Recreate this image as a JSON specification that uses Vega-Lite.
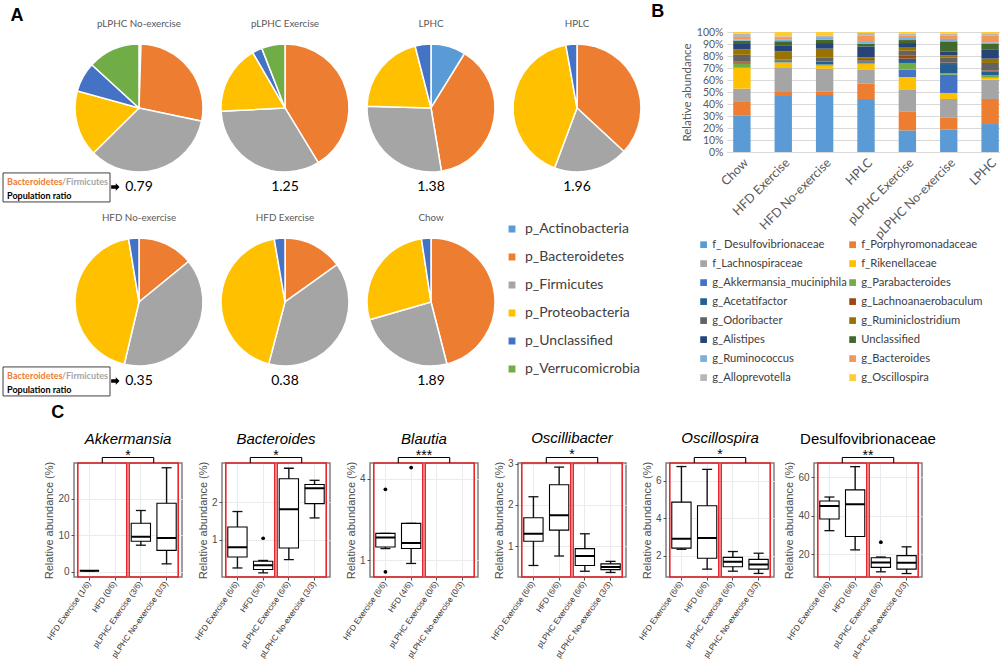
{
"$schema":"https://vega.github.io/schema/vega-lite/v6.json",
"background":"white",
"padding":{"left":2,"top":3,"right":0,"bottom":0},
"config":{"font":"Lato","view":{"stroke":null},"title":{"color":"black"}},
"datasets":{
"pies":[
{"group":"pLPHC No-exercise","kind":"pie","phylum":"p_Actinobacteria","value":0.5},
{"group":"pLPHC No-exercise","kind":"pie","phylum":"p_Bacteroidetes","value":27.8},
{"group":"pLPHC No-exercise","kind":"pie","phylum":"p_Firmicutes","value":34.3},
{"group":"pLPHC No-exercise","kind":"pie","phylum":"p_Proteobacteria","value":16.7},
{"group":"pLPHC No-exercise","kind":"pie","phylum":"p_Unclassified","value":7.5},
{"group":"pLPHC No-exercise","kind":"pie","phylum":"p_Verrucomicrobia","value":13.2},
{"group":"pLPHC Exercise","kind":"pie","phylum":"p_Bacteroidetes","value":41.3},
{"group":"pLPHC Exercise","kind":"pie","phylum":"p_Firmicutes","value":32.9},
{"group":"pLPHC Exercise","kind":"pie","phylum":"p_Proteobacteria","value":17.4},
{"group":"pLPHC Exercise","kind":"pie","phylum":"p_Unclassified","value":2.5},
{"group":"pLPHC Exercise","kind":"pie","phylum":"p_Verrucomicrobia","value":5.9},
{"group":"LPHC","kind":"pie","phylum":"p_Actinobacteria","value":8.8},
{"group":"LPHC","kind":"pie","phylum":"p_Bacteroidetes","value":38.6},
{"group":"LPHC","kind":"pie","phylum":"p_Firmicutes","value":28.0},
{"group":"LPHC","kind":"pie","phylum":"p_Proteobacteria","value":20.6},
{"group":"LPHC","kind":"pie","phylum":"p_Unclassified","value":4.0},
{"group":"HPLC","kind":"pie","phylum":"p_Bacteroidetes","value":36.9},
{"group":"HPLC","kind":"pie","phylum":"p_Firmicutes","value":18.8},
{"group":"HPLC","kind":"pie","phylum":"p_Proteobacteria","value":41.5},
{"group":"HPLC","kind":"pie","phylum":"p_Unclassified","value":2.8},
{"group":"HFD No-exercise","kind":"pie","phylum":"p_Bacteroidetes","value":14.1},
{"group":"HFD No-exercise","kind":"pie","phylum":"p_Firmicutes","value":39.6},
{"group":"HFD No-exercise","kind":"pie","phylum":"p_Proteobacteria","value":43.7},
{"group":"HFD No-exercise","kind":"pie","phylum":"p_Unclassified","value":2.6},
{"group":"HFD Exercise","kind":"pie","phylum":"p_Bacteroidetes","value":15.1},
{"group":"HFD Exercise","kind":"pie","phylum":"p_Firmicutes","value":39.0},
{"group":"HFD Exercise","kind":"pie","phylum":"p_Proteobacteria","value":43.2},
{"group":"HFD Exercise","kind":"pie","phylum":"p_Unclassified","value":2.7},
{"group":"Chow","kind":"pie","phylum":"p_Bacteroidetes","value":46.0},
{"group":"Chow","kind":"pie","phylum":"p_Firmicutes","value":24.5},
{"group":"Chow","kind":"pie","phylum":"p_Proteobacteria","value":27.1},
{"group":"Chow","kind":"pie","phylum":"p_Unclassified","value":2.4},
{"group":"pLPHC No-exercise","kind":"ratio","ratio":0.79},
{"group":"pLPHC Exercise","kind":"ratio","ratio":1.25},
{"group":"LPHC","kind":"ratio","ratio":1.38},
{"group":"HPLC","kind":"ratio","ratio":1.96},
{"group":"HFD No-exercise","kind":"ratio","ratio":0.35},
{"group":"HFD Exercise","kind":"ratio","ratio":0.38},
{"group":"Chow","kind":"ratio","ratio":1.89},
{"group":"pLPHC No-exercise","kind":"note","part":"Bacteroidetes"},
{"group":"pLPHC No-exercise","kind":"note","part":"/Firmicutes"},
{"group":"pLPHC No-exercise","kind":"note","part":"Population ratio"},
{"group":"HFD No-exercise","kind":"note","part":"Bacteroidetes"},
{"group":"HFD No-exercise","kind":"note","part":"/Firmicutes"},
{"group":"HFD No-exercise","kind":"note","part":"Population ratio"}
],
"taxa":[
{"t":"f_ Desulfovibrionaceae","o":1},{"t":"f_Porphyromonadaceae","o":2},{"t":"f_Lachnospiraceae","o":3},{"t":"f_Rikenellaceae","o":4},
{"t":"g_Akkermansia_muciniphila","o":5},{"t":"g_Parabacteroides","o":6},{"t":"g_Acetatifactor","o":7},{"t":"g_Lachnoanaerobaculum","o":8},
{"t":"g_Odoribacter","o":9},{"t":"g_Ruminiclostridium","o":10},{"t":"g_Alistipes","o":11},{"t":"Unclassified","o":12},
{"t":"g_Ruminococcus","o":13},{"t":"g_Bacteroides","o":14},{"t":"g_Alloprevotella","o":15},{"t":"g_Oscillospira","o":16}
],
"bars":[
{"g":"Chow","f_ Desulfovibrionaceae":30.6,"f_Porphyromonadaceae":11.1,"f_Lachnospiraceae":11.1,"f_Rikenellaceae":17.2,"g_Akkermansia_muciniphila":0.2,"g_Parabacteroides":3.4,"g_Acetatifactor":0.8,"g_Lachnoanaerobaculum":0.8,"g_Odoribacter":5.8,"g_Ruminiclostridium":4.5,"g_Alistipes":4.5,"Unclassified":2.8,"g_Ruminococcus":0.8,"g_Bacteroides":2.2,"g_Alloprevotella":2.8,"g_Oscillospira":1.4},
{"g":"HFD Exercise","f_ Desulfovibrionaceae":46.7,"f_Porphyromonadaceae":3.3,"f_Lachnospiraceae":20.6,"f_Rikenellaceae":3.8,"g_Akkermansia_muciniphila":0.2,"g_Parabacteroides":0.3,"g_Acetatifactor":0.8,"g_Lachnoanaerobaculum":0.4,"g_Odoribacter":0.9,"g_Ruminiclostridium":6.9,"g_Alistipes":5.0,"Unclassified":3.3,"g_Ruminococcus":1.4,"g_Bacteroides":1.4,"g_Alloprevotella":1.4,"g_Oscillospira":3.6},
{"g":"HFD No-exercise","f_ Desulfovibrionaceae":47.5,"f_Porphyromonadaceae":3.1,"f_Lachnospiraceae":18.8,"f_Rikenellaceae":2.8,"g_Akkermansia_muciniphila":0.3,"g_Parabacteroides":0.5,"g_Acetatifactor":2.0,"g_Lachnoanaerobaculum":0.5,"g_Odoribacter":3.4,"g_Ruminiclostridium":7.2,"g_Alistipes":4.7,"Unclassified":2.8,"g_Ruminococcus":1.4,"g_Bacteroides":0.8,"g_Alloprevotella":1.4,"g_Oscillospira":2.8},
{"g":"HPLC","f_ Desulfovibrionaceae":44.2,"f_Porphyromonadaceae":13.0,"f_Lachnospiraceae":11.7,"f_Rikenellaceae":4.4,"g_Akkermansia_muciniphila":0.3,"g_Parabacteroides":0.8,"g_Acetatifactor":1.1,"g_Lachnoanaerobaculum":0.9,"g_Odoribacter":1.1,"g_Ruminiclostridium":1.4,"g_Alistipes":9.1,"Unclassified":2.3,"g_Ruminococcus":1.4,"g_Bacteroides":5.5,"g_Alloprevotella":2.0,"g_Oscillospira":0.8},
{"g":"pLPHC Exercise","f_ Desulfovibrionaceae":18.0,"f_Porphyromonadaceae":15.9,"f_Lachnospiraceae":17.8,"f_Rikenellaceae":10.8,"g_Akkermansia_muciniphila":6.1,"g_Parabacteroides":5.6,"g_Acetatifactor":3.6,"g_Lachnoanaerobaculum":2.8,"g_Odoribacter":3.8,"g_Ruminiclostridium":3.1,"g_Alistipes":3.3,"Unclassified":2.5,"g_Ruminococcus":1.7,"g_Bacteroides":2.2,"g_Alloprevotella":1.4,"g_Oscillospira":1.4},
{"g":"pLPHC No-exercise","f_ Desulfovibrionaceae":18.6,"f_Porphyromonadaceae":10.3,"f_Lachnospiraceae":15.3,"f_Rikenellaceae":5.0,"g_Akkermansia_muciniphila":15.2,"g_Parabacteroides":1.4,"g_Acetatifactor":7.5,"g_Lachnoanaerobaculum":1.1,"g_Odoribacter":4.5,"g_Ruminiclostridium":1.7,"g_Alistipes":3.3,"Unclassified":8.3,"g_Ruminococcus":2.0,"g_Bacteroides":3.0,"g_Alloprevotella":1.4,"g_Oscillospira":1.4},
{"g":"LPHC","f_ Desulfovibrionaceae":23.3,"f_Porphyromonadaceae":20.9,"f_Lachnospiraceae":16.1,"f_Rikenellaceae":1.4,"g_Akkermansia_muciniphila":0.3,"g_Parabacteroides":1.9,"g_Acetatifactor":3.3,"g_Lachnoanaerobaculum":0.8,"g_Odoribacter":6.2,"g_Ruminiclostridium":3.6,"g_Alistipes":7.8,"Unclassified":4.4,"g_Ruminococcus":1.4,"g_Bacteroides":5.8,"g_Alloprevotella":1.7,"g_Oscillospira":1.1}
]
},
"resolve":{"scale":{"color":"independent"},"legend":{"color":"independent"}},
"spacing":6,
"vconcat":[
{"hconcat":[
{"data":{"name":"pies"},
 "title":{"text":"A","anchor":"start","fontSize":18,"fontWeight":"bold","font":"Liberation Sans","color":"black","offset":-6,"dx":8},
 "columns":4,
 "spacing":{"row":10,"column":12},
 "facet":{"field":"group","type":"nominal","sort":["pLPHC No-exercise","pLPHC Exercise","LPHC","HPLC","HFD No-exercise","HFD Exercise","Chow"],"header":{"title":null,"labelFont":"Lato","labelFontSize":9.8,"labelColor":"#595959","labelPadding":3}},
 "spec":{"width":130,"height":162,
  "layer":[
   {"transform":[{"filter":"datum.kind=='pie'"}],
    "mark":{"type":"arc","outerRadius":64,"stroke":"white","strokeWidth":1.5},
    "encoding":{
     "theta":{"field":"value","type":"quantitative","stack":"normalize"},
     "order":{"field":"phylum","type":"ordinal"},
     "color":{"field":"phylum","type":"nominal","scale":{"domain":["p_Actinobacteria","p_Bacteroidetes","p_Firmicutes","p_Proteobacteria","p_Unclassified","p_Verrucomicrobia"],"range":["#5B9BD5","#ED7D31","#A5A5A5","#FFC000","#4472C4","#70AD47"]},
      "legend":{"orient":"none","legendX":431,"legendY":190,"title":null,"symbolType":"square","symbolSize":70,"labelFontSize":14,"labelColor":"#404040","labelFont":"Lato","rowPadding":12,"labelOffset":6}},
     "x":{"datum":0.5,"type":"quantitative","scale":{"domain":[0,1],"nice":false,"zero":false},"axis":null},
     "y":{"datum":0.531,"type":"quantitative","scale":{"domain":[0,1],"nice":false,"zero":false},"axis":null}}},
   {"transform":[{"filter":"datum.kind=='ratio'"}],
    "mark":{"type":"text","fontSize":14,"font":"Lato","color":"black","baseline":"middle"},
    "encoding":{"text":{"field":"ratio","type":"quantitative","format":".2f"},
     "x":{"datum":0.5,"type":"quantitative"},"y":{"datum":0.043,"type":"quantitative"}}},
   {"transform":[{"filter":"datum.kind=='note' && datum.part=='Bacteroidetes'"}],
    "mark":{"type":"rect","fill":"white","stroke":"#404040","strokeWidth":1},
    "encoding":{"x":{"datum":-0.546,"type":"quantitative"},"x2":{"datum":0.277},"y":{"datum":0.13,"type":"quantitative"},"y2":{"datum":-0.049}}},
   {"transform":[{"filter":"datum.kind=='note' && datum.part=='Bacteroidetes'"}],
    "mark":{"type":"text","fontSize":9,"font":"Lato","fontWeight":"bold","color":"#ED7D31","align":"left","baseline":"middle"},
    "encoding":{"text":{"field":"part"},"x":{"datum":-0.515,"type":"quantitative"},"y":{"datum":0.074,"type":"quantitative"}}},
   {"transform":[{"filter":"datum.kind=='note' && datum.part=='/Firmicutes'"}],
    "mark":{"type":"text","fontSize":9,"font":"Lato","fontWeight":"bold","color":"#A5A5A5","align":"right","baseline":"middle"},
    "encoding":{"text":{"field":"part"},"x":{"datum":0.262,"type":"quantitative"},"y":{"datum":0.074,"type":"quantitative"}}},
   {"transform":[{"filter":"datum.kind=='note' && datum.part=='Population ratio'"}],
    "mark":{"type":"text","fontSize":9,"font":"Lato","fontWeight":"bold","color":"black","align":"left","baseline":"middle"},
    "encoding":{"text":{"field":"part"},"x":{"datum":-0.515,"type":"quantitative"},"y":{"datum":-0.012,"type":"quantitative"}}},
   {"transform":[{"filter":"datum.kind=='note' && datum.part=='Bacteroidetes'"}],
    "mark":{"type":"point","shape":"M-1,-0.4L0.1,-0.4L0.1,-0.9L1,0L0.1,0.9L0.1,0.4L-1,0.4Z","filled":true,"color":"black","size":70,"opacity":1},
    "encoding":{"x":{"datum":0.318,"type":"quantitative"},"y":{"datum":0.043,"type":"quantitative"}}}
  ]}},
{"data":{"name":"bars"},
 "title":{"text":"B","anchor":"start","fontSize":18,"fontWeight":"bold","font":"Liberation Sans","color":"black","dx":-30,"offset":6},
 "width":278,"height":120,
 "transform":[
  {"fold":["f_ Desulfovibrionaceae","f_Porphyromonadaceae","f_Lachnospiraceae","f_Rikenellaceae","g_Akkermansia_muciniphila","g_Parabacteroides","g_Acetatifactor","g_Lachnoanaerobaculum","g_Odoribacter","g_Ruminiclostridium","g_Alistipes","Unclassified","g_Ruminococcus","g_Bacteroides","g_Alloprevotella","g_Oscillospira"],"as":["t","v"]},
  {"lookup":"t","from":{"data":{"name":"taxa"},"key":"t","fields":["o"]}}
 ],
 "mark":{"type":"bar"},
 "encoding":{
  "x":{"field":"g","type":"nominal","sort":["Chow","HFD Exercise","HFD No-exercise","HPLC","pLPHC Exercise","pLPHC No-exercise","LPHC"],"scale":{"paddingInner":0.58,"paddingOuter":0.15},
   "axis":{"title":null,"labelAngle":-45,"labelFontSize":12.5,"labelColor":"#595959","labelFont":"Lato","ticks":false,"domainColor":"#d9d9d9","labelPadding":4}},
  "y":{"field":"v","type":"quantitative","stack":"normalize",
   "axis":{"title":"Relative abundance","titleFont":"Lato","titleFontSize":11.5,"titleFontWeight":"normal","titleColor":"#595959","format":"%","values":[0,0.1,0.2,0.3,0.4,0.5,0.6,0.7,0.8,0.9,1],"gridColor":"#d9d9d9","domain":false,"ticks":false,"labelFont":"Lato","labelFontSize":10.5,"labelColor":"#595959","labelPadding":4}},
  "color":{"field":"t","type":"nominal","scale":{"domain":["f_ Desulfovibrionaceae","f_Porphyromonadaceae","f_Lachnospiraceae","f_Rikenellaceae","g_Akkermansia_muciniphila","g_Parabacteroides","g_Acetatifactor","g_Lachnoanaerobaculum","g_Odoribacter","g_Ruminiclostridium","g_Alistipes","Unclassified","g_Ruminococcus","g_Bacteroides","g_Alloprevotella","g_Oscillospira"],"range":["#5B9BD5","#ED7D31","#A5A5A5","#FFC000","#4472C4","#70AD47","#255E91","#9E480E","#636363","#997300","#264478","#43682B","#7CAFDD","#F1975A","#B7B7B7","#FFCD33"]},
   "legend":{"orient":"none","direction":"horizontal","legendX":-29,"legendY":207,"columns":2,"title":null,"symbolType":"square","symbolSize":45,"labelFontSize":11.2,"labelColor":"#404040","labelFont":"Lato","rowPadding":7,"columnPadding":0,"labelOffset":3,"labelLimit":220}},
  "order":{"field":"o","type":"quantitative"}
 }}
],
"spacing":7,
"resolve":{"scale":{"color":"independent"},"legend":{"color":"independent"}}},
{"title":{"text":"C","anchor":"start","fontSize":18,"fontWeight":"bold","font":"Liberation Sans","color":"black","dx":8,"offset":9},
"spacing":40,
"bounds":"flush",
"hconcat":[
{"width":108,"height":114,"view":{"stroke":"#7f7f7f","strokeWidth":1.5},
 "title":{"text":"Akkermansia","fontStyle":"italic","fontWeight":"normal","fontSize":15,"font":"Liberation Sans","color":"black","offset":2},
 "data":{"values":[
  {"k":"box","g":"HFD Exercise (1/6)","lo":0.3,"q1":0.3,"md":0.3,"q3":0.3,"hi":0.3},
  {"k":"box","g":"pLPHC Exercise (3/6)","lo":7.3,"q1":8.4,"md":9.6,"q3":13.3,"hi":16.8},
  {"k":"box","g":"pLPHC No-exercise (3/3)","lo":2.2,"q1":5.9,"md":9.3,"q3":18.8,"hi":28.5},
  {"k":"pair","a":"HFD Exercise (1/6)","b":"HFD (0/6)"},
  {"k":"pair","a":"pLPHC Exercise (3/6)","b":"pLPHC No-exercise (3/3)"},
  {"k":"sig","a":"HFD Exercise (1/6)","b":"pLPHC Exercise (3/6)","c":"HFD (0/6)","s":"*"}
 ]},
 "layer":[
  {"transform":[{"filter":"datum.k=='pair'"}],"mark":{"type":"rect","fill":"transparent","stroke":"#e8262b","strokeWidth":1.6,"xOffset":-2,"x2Offset":2},
   "encoding":{"x":{"field":"a","type":"nominal","bandPosition":0,"scale":{"domain":["HFD Exercise (1/6)","HFD (0/6)","pLPHC Exercise (3/6)","pLPHC No-exercise (3/3)"],"paddingInner":0.25,"paddingOuter":0.225},
     "axis":{"title":null,"zindex":0,"labelAngle":-55,"labelFontSize":8.2,"labelFont":"Liberation Sans","labelColor":"#333333","tickColor":"#4d4d4d","tickSize":3,"domain":false,"grid":true,"gridColor":"#ebebeb","bandPosition":0.5,"labelPadding":2}},
    "x2":{"field":"b","bandPosition":1}}},
  {"transform":[{"filter":"datum.k=='box'"}],"mark":{"type":"rule","stroke":"#111111","strokeWidth":1.4},
   "encoding":{"x":{"field":"g","type":"nominal"},"y":{"field":"lo","type":"quantitative","title":"Relative abundance (%)","scale":{"domain":[-1.4,29.8],"nice":false,"zero":false},
     "axis":{"values":[0,10,20],"zindex":0,"titleFont":"Liberation Sans","titleFontSize":11,"titleFontWeight":"normal","titleColor":"#4d4d4d","labelFont":"Liberation Sans","labelFontSize":10,"labelColor":"#4d4d4d","tickColor":"#4d4d4d","tickSize":3,"domain":false,"gridColor":"#ebebeb","labelPadding":2,"titlePadding":3}},"y2":{"field":"hi"}}},
  {"transform":[{"filter":"datum.k=='box'"}],"mark":{"type":"tick","color":"#111111","size":10,"thickness":1.3,"opacity":1},
   "encoding":{"x":{"field":"g","type":"nominal"},"y":{"field":"hi","type":"quantitative","title":"Relative abundance (%)"}}},
  {"transform":[{"filter":"datum.k=='box'"}],"mark":{"type":"tick","color":"#111111","size":10,"thickness":1.3,"opacity":1},
   "encoding":{"x":{"field":"g","type":"nominal"},"y":{"field":"lo","type":"quantitative","title":"Relative abundance (%)"}}},
  {"transform":[{"filter":"datum.k=='box'"}],"mark":{"type":"bar","fill":"white","stroke":"black","strokeWidth":1.1},
   "encoding":{"x":{"field":"g","type":"nominal"},"y":{"field":"q1","type":"quantitative","title":"Relative abundance (%)"},"y2":{"field":"q3"}}},
  {"transform":[{"filter":"datum.k=='box'"}],"mark":{"type":"bar","fill":"transparent","stroke":"black","strokeWidth":2},
   "encoding":{"x":{"field":"g","type":"nominal"},"y":{"field":"md","type":"quantitative","title":"Relative abundance (%)"},"y2":{"field":"md"}}},
  {"transform":[{"filter":"datum.k=='sig'"}],"mark":{"type":"rule","color":"black","strokeWidth":1.1},
   "encoding":{"x":{"field":"a","type":"nominal","bandPosition":1.1667},"x2":{"field":"b","bandPosition":1.1667},"y":{"datum":31.3,"type":"quantitative","title":"Relative abundance (%)"}}},
  {"transform":[{"filter":"datum.k=='sig'"}],"mark":{"type":"rule","color":"black","strokeWidth":1.1},
   "encoding":{"x":{"field":"a","type":"nominal","bandPosition":1.1667},"y":{"datum":31.3,"type":"quantitative","title":"Relative abundance (%)"},"y2":{"datum":29.8}}},
  {"transform":[{"filter":"datum.k=='sig'"}],"mark":{"type":"rule","color":"black","strokeWidth":1.1},
   "encoding":{"x":{"field":"b","type":"nominal","bandPosition":1.1667},"y":{"datum":31.3,"type":"quantitative","title":"Relative abundance (%)"},"y2":{"datum":29.8}}},
  {"transform":[{"filter":"datum.k=='sig'"}],"mark":{"type":"text","fontSize":14,"font":"Liberation Sans","baseline":"alphabetic","dy":2,"color":"black"},
   "encoding":{"x":{"field":"c","type":"nominal","bandPosition":1.1667},"y":{"datum":31.3,"type":"quantitative","title":"Relative abundance (%)"},"text":{"field":"s"}}}
 ]},
{"width":108,"height":114,"view":{"stroke":"#7f7f7f","strokeWidth":1.5},
 "title":{"text":"Bacteroides","fontStyle":"italic","fontWeight":"normal","fontSize":15,"font":"Liberation Sans","color":"black","offset":2},
 "data":{"values":[
  {"k":"box","g":"HFD Exercise (6/6)","lo":0.25,"q1":0.54,"md":0.8,"q3":1.34,"hi":1.75},
  {"k":"box","g":"HFD (5/6)","lo":0.12,"q1":0.21,"md":0.32,"q3":0.43,"hi":0.45},
  {"k":"box","g":"pLPHC Exercise (6/6)","lo":0.47,"q1":0.78,"md":1.81,"q3":2.62,"hi":2.9},
  {"k":"box","g":"pLPHC No-exercise (3/3)","lo":1.58,"q1":1.96,"md":2.37,"q3":2.47,"hi":2.58},
  {"k":"out","g":"HFD (5/6)","v":1.04},
  {"k":"pair","a":"HFD Exercise (6/6)","b":"HFD (5/6)"},
  {"k":"pair","a":"pLPHC Exercise (6/6)","b":"pLPHC No-exercise (3/3)"},
  {"k":"sig","a":"HFD Exercise (6/6)","b":"pLPHC Exercise (6/6)","c":"HFD (5/6)","s":"*"}
 ]},
 "layer":[
  {"transform":[{"filter":"datum.k=='pair'"}],"mark":{"type":"rect","fill":"transparent","stroke":"#e8262b","strokeWidth":1.6,"xOffset":-2,"x2Offset":2},
   "encoding":{"x":{"field":"a","type":"nominal","bandPosition":0,"scale":{"domain":["HFD Exercise (6/6)","HFD (5/6)","pLPHC Exercise (6/6)","pLPHC No-exercise (3/3)"],"paddingInner":0.25,"paddingOuter":0.225},
     "axis":{"title":null,"zindex":0,"labelAngle":-55,"labelFontSize":8.2,"labelFont":"Liberation Sans","labelColor":"#333333","tickColor":"#4d4d4d","tickSize":3,"domain":false,"grid":true,"gridColor":"#ebebeb","bandPosition":0.5,"labelPadding":2}},
    "x2":{"field":"b","bandPosition":1}}},
  {"transform":[{"filter":"datum.k=='box'"}],"mark":{"type":"rule","stroke":"#111111","strokeWidth":1.4},
   "encoding":{"x":{"field":"g","type":"nominal"},"y":{"field":"lo","type":"quantitative","title":"Relative abundance (%)","scale":{"domain":[0.01,3.04],"nice":false,"zero":false},
     "axis":{"values":[1,2],"zindex":0,"titleFont":"Liberation Sans","titleFontSize":11,"titleFontWeight":"normal","titleColor":"#4d4d4d","labelFont":"Liberation Sans","labelFontSize":10,"labelColor":"#4d4d4d","tickColor":"#4d4d4d","tickSize":3,"domain":false,"gridColor":"#ebebeb","labelPadding":2,"titlePadding":3}},"y2":{"field":"hi"}}},
  {"transform":[{"filter":"datum.k=='box'"}],"mark":{"type":"tick","color":"#111111","size":10,"thickness":1.3,"opacity":1},
   "encoding":{"x":{"field":"g","type":"nominal"},"y":{"field":"hi","type":"quantitative","title":"Relative abundance (%)"}}},
  {"transform":[{"filter":"datum.k=='box'"}],"mark":{"type":"tick","color":"#111111","size":10,"thickness":1.3,"opacity":1},
   "encoding":{"x":{"field":"g","type":"nominal"},"y":{"field":"lo","type":"quantitative","title":"Relative abundance (%)"}}},
  {"transform":[{"filter":"datum.k=='box'"}],"mark":{"type":"bar","fill":"white","stroke":"black","strokeWidth":1.1},
   "encoding":{"x":{"field":"g","type":"nominal"},"y":{"field":"q1","type":"quantitative","title":"Relative abundance (%)"},"y2":{"field":"q3"}}},
  {"transform":[{"filter":"datum.k=='box'"}],"mark":{"type":"bar","fill":"transparent","stroke":"black","strokeWidth":2},
   "encoding":{"x":{"field":"g","type":"nominal"},"y":{"field":"md","type":"quantitative","title":"Relative abundance (%)"},"y2":{"field":"md"}}},
  {"transform":[{"filter":"datum.k=='out'"}],"mark":{"type":"circle","color":"black","size":14,"opacity":1},
   "encoding":{"x":{"field":"g","type":"nominal"},"y":{"field":"v","type":"quantitative","title":"Relative abundance (%)"}}},
  {"transform":[{"filter":"datum.k=='sig'"}],"mark":{"type":"rule","color":"black","strokeWidth":1.1},
   "encoding":{"x":{"field":"a","type":"nominal","bandPosition":1.1667},"x2":{"field":"b","bandPosition":1.1667},"y":{"datum":3.186,"type":"quantitative","title":"Relative abundance (%)"}}},
  {"transform":[{"filter":"datum.k=='sig'"}],"mark":{"type":"rule","color":"black","strokeWidth":1.1},
   "encoding":{"x":{"field":"a","type":"nominal","bandPosition":1.1667},"y":{"datum":3.186,"type":"quantitative","title":"Relative abundance (%)"},"y2":{"datum":3.04}}},
  {"transform":[{"filter":"datum.k=='sig'"}],"mark":{"type":"rule","color":"black","strokeWidth":1.1},
   "encoding":{"x":{"field":"b","type":"nominal","bandPosition":1.1667},"y":{"datum":3.186,"type":"quantitative","title":"Relative abundance (%)"},"y2":{"datum":3.04}}},
  {"transform":[{"filter":"datum.k=='sig'"}],"mark":{"type":"text","fontSize":14,"font":"Liberation Sans","baseline":"alphabetic","dy":2,"color":"black"},
   "encoding":{"x":{"field":"c","type":"nominal","bandPosition":1.1667},"y":{"datum":3.186,"type":"quantitative","title":"Relative abundance (%)"},"text":{"field":"s"}}}
 ]},
{"width":108,"height":114,"view":{"stroke":"#7f7f7f","strokeWidth":1.5},
 "title":{"text":"Blautia","fontStyle":"italic","fontWeight":"normal","fontSize":15,"font":"Liberation Sans","color":"black","offset":2},
 "data":{"values":[
  {"k":"box","g":"HFD Exercise (6/6)","lo":1.43,"q1":1.49,"md":1.84,"q3":1.99,"hi":1.99},
  {"k":"box","g":"HFD (4/6)","lo":0.88,"q1":1.43,"md":1.64,"q3":2.36,"hi":2.36},
  {"k":"out","g":"HFD Exercise (6/6)","v":3.62},
  {"k":"out","g":"HFD Exercise (6/6)","v":0.57},
  {"k":"out","g":"HFD (4/6)","v":4.42},
  {"k":"pair","a":"HFD Exercise (6/6)","b":"HFD (4/6)"},
  {"k":"pair","a":"pLPHC Exercise (0/6)","b":"pLPHC No-exercise (0/3)"},
  {"k":"sig","a":"HFD Exercise (6/6)","b":"pLPHC Exercise (0/6)","c":"HFD (4/6)","s":"***"}
 ]},
 "layer":[
  {"transform":[{"filter":"datum.k=='pair'"}],"mark":{"type":"rect","fill":"transparent","stroke":"#e8262b","strokeWidth":1.6,"xOffset":-2,"x2Offset":2},
   "encoding":{"x":{"field":"a","type":"nominal","bandPosition":0,"scale":{"domain":["HFD Exercise (6/6)","HFD (4/6)","pLPHC Exercise (0/6)","pLPHC No-exercise (0/3)"],"paddingInner":0.25,"paddingOuter":0.225},
     "axis":{"title":null,"zindex":0,"labelAngle":-55,"labelFontSize":8.2,"labelFont":"Liberation Sans","labelColor":"#333333","tickColor":"#4d4d4d","tickSize":3,"domain":false,"grid":true,"gridColor":"#ebebeb","bandPosition":0.5,"labelPadding":2}},
    "x2":{"field":"b","bandPosition":1}}},
  {"transform":[{"filter":"datum.k=='box'"}],"mark":{"type":"rule","stroke":"#111111","strokeWidth":1.4},
   "encoding":{"x":{"field":"g","type":"nominal"},"y":{"field":"lo","type":"quantitative","title":"Relative abundance (%)","scale":{"domain":[0.38,4.59],"nice":false,"zero":false},
     "axis":{"values":[1,2,3,4],"zindex":0,"titleFont":"Liberation Sans","titleFontSize":11,"titleFontWeight":"normal","titleColor":"#4d4d4d","labelFont":"Liberation Sans","labelFontSize":10,"labelColor":"#4d4d4d","tickColor":"#4d4d4d","tickSize":3,"domain":false,"gridColor":"#ebebeb","labelPadding":2,"titlePadding":3}},"y2":{"field":"hi"}}},
  {"transform":[{"filter":"datum.k=='box'"}],"mark":{"type":"tick","color":"#111111","size":10,"thickness":1.3,"opacity":1},
   "encoding":{"x":{"field":"g","type":"nominal"},"y":{"field":"hi","type":"quantitative","title":"Relative abundance (%)"}}},
  {"transform":[{"filter":"datum.k=='box'"}],"mark":{"type":"tick","color":"#111111","size":10,"thickness":1.3,"opacity":1},
   "encoding":{"x":{"field":"g","type":"nominal"},"y":{"field":"lo","type":"quantitative","title":"Relative abundance (%)"}}},
  {"transform":[{"filter":"datum.k=='box'"}],"mark":{"type":"bar","fill":"white","stroke":"black","strokeWidth":1.1},
   "encoding":{"x":{"field":"g","type":"nominal"},"y":{"field":"q1","type":"quantitative","title":"Relative abundance (%)"},"y2":{"field":"q3"}}},
  {"transform":[{"filter":"datum.k=='box'"}],"mark":{"type":"bar","fill":"transparent","stroke":"black","strokeWidth":2},
   "encoding":{"x":{"field":"g","type":"nominal"},"y":{"field":"md","type":"quantitative","title":"Relative abundance (%)"},"y2":{"field":"md"}}},
  {"transform":[{"filter":"datum.k=='out'"}],"mark":{"type":"circle","color":"black","size":14,"opacity":1},
   "encoding":{"x":{"field":"g","type":"nominal"},"y":{"field":"v","type":"quantitative","title":"Relative abundance (%)"}}},
  {"transform":[{"filter":"datum.k=='sig'"}],"mark":{"type":"rule","color":"black","strokeWidth":1.1},
   "encoding":{"x":{"field":"a","type":"nominal","bandPosition":1.1667},"x2":{"field":"b","bandPosition":1.1667},"y":{"datum":4.793,"type":"quantitative","title":"Relative abundance (%)"}}},
  {"transform":[{"filter":"datum.k=='sig'"}],"mark":{"type":"rule","color":"black","strokeWidth":1.1},
   "encoding":{"x":{"field":"a","type":"nominal","bandPosition":1.1667},"y":{"datum":4.793,"type":"quantitative","title":"Relative abundance (%)"},"y2":{"datum":4.59}}},
  {"transform":[{"filter":"datum.k=='sig'"}],"mark":{"type":"rule","color":"black","strokeWidth":1.1},
   "encoding":{"x":{"field":"b","type":"nominal","bandPosition":1.1667},"y":{"datum":4.793,"type":"quantitative","title":"Relative abundance (%)"},"y2":{"datum":4.59}}},
  {"transform":[{"filter":"datum.k=='sig'"}],"mark":{"type":"text","fontSize":14,"font":"Liberation Sans","baseline":"alphabetic","dy":2,"color":"black"},
   "encoding":{"x":{"field":"c","type":"nominal","bandPosition":1.1667},"y":{"datum":4.793,"type":"quantitative","title":"Relative abundance (%)"},"text":{"field":"s"}}}
 ]},
{"width":108,"height":114,"view":{"stroke":"#7f7f7f","strokeWidth":1.5},
 "title":{"text":"Oscillibacter","fontStyle":"italic","fontWeight":"normal","fontSize":15,"font":"Liberation Sans","color":"black","offset":2},
 "data":{"values":[
  {"k":"box","g":"HFD Exercise (6/6)","lo":0.53,"q1":1.12,"md":1.3,"q3":1.69,"hi":2.2},
  {"k":"box","g":"HFD (6/6)","lo":0.76,"q1":1.39,"md":1.75,"q3":2.49,"hi":2.92},
  {"k":"box","g":"pLPHC Exercise (6/6)","lo":0.39,"q1":0.53,"md":0.76,"q3":0.94,"hi":1.3},
  {"k":"box","g":"pLPHC No-exercise (3/3)","lo":0.36,"q1":0.43,"md":0.49,"q3":0.57,"hi":0.63},
  {"k":"pair","a":"HFD Exercise (6/6)","b":"HFD (6/6)"},
  {"k":"pair","a":"pLPHC Exercise (6/6)","b":"pLPHC No-exercise (3/3)"},
  {"k":"sig","a":"HFD Exercise (6/6)","b":"pLPHC Exercise (6/6)","c":"HFD (6/6)","s":"*"}
 ]},
 "layer":[
  {"transform":[{"filter":"datum.k=='pair'"}],"mark":{"type":"rect","fill":"transparent","stroke":"#e8262b","strokeWidth":1.6,"xOffset":-2,"x2Offset":2},
   "encoding":{"x":{"field":"a","type":"nominal","bandPosition":0,"scale":{"domain":["HFD Exercise (6/6)","HFD (6/6)","pLPHC Exercise (6/6)","pLPHC No-exercise (3/3)"],"paddingInner":0.25,"paddingOuter":0.225},
     "axis":{"title":null,"zindex":0,"labelAngle":-55,"labelFontSize":8.2,"labelFont":"Liberation Sans","labelColor":"#333333","tickColor":"#4d4d4d","tickSize":3,"domain":false,"grid":true,"gridColor":"#ebebeb","bandPosition":0.5,"labelPadding":2}},
    "x2":{"field":"b","bandPosition":1}}},
  {"transform":[{"filter":"datum.k=='box'"}],"mark":{"type":"rule","stroke":"#111111","strokeWidth":1.4},
   "encoding":{"x":{"field":"g","type":"nominal"},"y":{"field":"lo","type":"quantitative","title":"Relative abundance (%)","scale":{"domain":[0.25,3.02],"nice":false,"zero":false},
     "axis":{"values":[1,2,3],"zindex":0,"titleFont":"Liberation Sans","titleFontSize":11,"titleFontWeight":"normal","titleColor":"#4d4d4d","labelFont":"Liberation Sans","labelFontSize":10,"labelColor":"#4d4d4d","tickColor":"#4d4d4d","tickSize":3,"domain":false,"gridColor":"#ebebeb","labelPadding":2,"titlePadding":3}},"y2":{"field":"hi"}}},
  {"transform":[{"filter":"datum.k=='box'"}],"mark":{"type":"tick","color":"#111111","size":10,"thickness":1.3,"opacity":1},
   "encoding":{"x":{"field":"g","type":"nominal"},"y":{"field":"hi","type":"quantitative","title":"Relative abundance (%)"}}},
  {"transform":[{"filter":"datum.k=='box'"}],"mark":{"type":"tick","color":"#111111","size":10,"thickness":1.3,"opacity":1},
   "encoding":{"x":{"field":"g","type":"nominal"},"y":{"field":"lo","type":"quantitative","title":"Relative abundance (%)"}}},
  {"transform":[{"filter":"datum.k=='box'"}],"mark":{"type":"bar","fill":"white","stroke":"black","strokeWidth":1.1},
   "encoding":{"x":{"field":"g","type":"nominal"},"y":{"field":"q1","type":"quantitative","title":"Relative abundance (%)"},"y2":{"field":"q3"}}},
  {"transform":[{"filter":"datum.k=='box'"}],"mark":{"type":"bar","fill":"transparent","stroke":"black","strokeWidth":2},
   "encoding":{"x":{"field":"g","type":"nominal"},"y":{"field":"md","type":"quantitative","title":"Relative abundance (%)"},"y2":{"field":"md"}}},
  {"transform":[{"filter":"datum.k=='sig'"}],"mark":{"type":"rule","color":"black","strokeWidth":1.1},
   "encoding":{"x":{"field":"a","type":"nominal","bandPosition":1.1667},"x2":{"field":"b","bandPosition":1.1667},"y":{"datum":3.154,"type":"quantitative","title":"Relative abundance (%)"}}},
  {"transform":[{"filter":"datum.k=='sig'"}],"mark":{"type":"rule","color":"black","strokeWidth":1.1},
   "encoding":{"x":{"field":"a","type":"nominal","bandPosition":1.1667},"y":{"datum":3.154,"type":"quantitative","title":"Relative abundance (%)"},"y2":{"datum":3.02}}},
  {"transform":[{"filter":"datum.k=='sig'"}],"mark":{"type":"rule","color":"black","strokeWidth":1.1},
   "encoding":{"x":{"field":"b","type":"nominal","bandPosition":1.1667},"y":{"datum":3.154,"type":"quantitative","title":"Relative abundance (%)"},"y2":{"datum":3.02}}},
  {"transform":[{"filter":"datum.k=='sig'"}],"mark":{"type":"text","fontSize":14,"font":"Liberation Sans","baseline":"alphabetic","dy":2,"color":"black"},
   "encoding":{"x":{"field":"c","type":"nominal","bandPosition":1.1667},"y":{"datum":3.154,"type":"quantitative","title":"Relative abundance (%)"},"text":{"field":"s"}}}
 ]},
{"width":108,"height":114,"view":{"stroke":"#7f7f7f","strokeWidth":1.5},
 "title":{"text":"Oscillospira","fontStyle":"italic","fontWeight":"normal","fontSize":15,"font":"Liberation Sans","color":"black","offset":2},
 "data":{"values":[
  {"k":"box","g":"HFD Exercise (6/6)","lo":2.34,"q1":2.4,"md":2.9,"q3":4.86,"hi":6.76},
  {"k":"box","g":"HFD (6/6)","lo":1.28,"q1":1.86,"md":2.94,"q3":4.67,"hi":6.61},
  {"k":"box","g":"pLPHC Exercise (6/6)","lo":1.17,"q1":1.41,"md":1.68,"q3":1.91,"hi":2.22},
  {"k":"box","g":"pLPHC No-exercise (3/3)","lo":1.05,"q1":1.28,"md":1.53,"q3":1.8,"hi":2.13},
  {"k":"pair","a":"HFD Exercise (6/6)","b":"HFD (6/6)"},
  {"k":"pair","a":"pLPHC Exercise (6/6)","b":"pLPHC No-exercise (3/3)"},
  {"k":"sig","a":"HFD Exercise (6/6)","b":"pLPHC Exercise (6/6)","c":"HFD (6/6)","s":"*"}
 ]},
 "layer":[
  {"transform":[{"filter":"datum.k=='pair'"}],"mark":{"type":"rect","fill":"transparent","stroke":"#e8262b","strokeWidth":1.6,"xOffset":-2,"x2Offset":2},
   "encoding":{"x":{"field":"a","type":"nominal","bandPosition":0,"scale":{"domain":["HFD Exercise (6/6)","HFD (6/6)","pLPHC Exercise (6/6)","pLPHC No-exercise (3/3)"],"paddingInner":0.25,"paddingOuter":0.225},
     "axis":{"title":null,"zindex":0,"labelAngle":-55,"labelFontSize":8.2,"labelFont":"Liberation Sans","labelColor":"#333333","tickColor":"#4d4d4d","tickSize":3,"domain":false,"grid":true,"gridColor":"#ebebeb","bandPosition":0.5,"labelPadding":2}},
    "x2":{"field":"b","bandPosition":1}}},
  {"transform":[{"filter":"datum.k=='box'"}],"mark":{"type":"rule","stroke":"#111111","strokeWidth":1.4},
   "encoding":{"x":{"field":"g","type":"nominal"},"y":{"field":"lo","type":"quantitative","title":"Relative abundance (%)","scale":{"domain":[0.86,6.95],"nice":false,"zero":false},
     "axis":{"values":[2,4,6],"zindex":0,"titleFont":"Liberation Sans","titleFontSize":11,"titleFontWeight":"normal","titleColor":"#4d4d4d","labelFont":"Liberation Sans","labelFontSize":10,"labelColor":"#4d4d4d","tickColor":"#4d4d4d","tickSize":3,"domain":false,"gridColor":"#ebebeb","labelPadding":2,"titlePadding":3}},"y2":{"field":"hi"}}},
  {"transform":[{"filter":"datum.k=='box'"}],"mark":{"type":"tick","color":"#111111","size":10,"thickness":1.3,"opacity":1},
   "encoding":{"x":{"field":"g","type":"nominal"},"y":{"field":"hi","type":"quantitative","title":"Relative abundance (%)"}}},
  {"transform":[{"filter":"datum.k=='box'"}],"mark":{"type":"tick","color":"#111111","size":10,"thickness":1.3,"opacity":1},
   "encoding":{"x":{"field":"g","type":"nominal"},"y":{"field":"lo","type":"quantitative","title":"Relative abundance (%)"}}},
  {"transform":[{"filter":"datum.k=='box'"}],"mark":{"type":"bar","fill":"white","stroke":"black","strokeWidth":1.1},
   "encoding":{"x":{"field":"g","type":"nominal"},"y":{"field":"q1","type":"quantitative","title":"Relative abundance (%)"},"y2":{"field":"q3"}}},
  {"transform":[{"filter":"datum.k=='box'"}],"mark":{"type":"bar","fill":"transparent","stroke":"black","strokeWidth":2},
   "encoding":{"x":{"field":"g","type":"nominal"},"y":{"field":"md","type":"quantitative","title":"Relative abundance (%)"},"y2":{"field":"md"}}},
  {"transform":[{"filter":"datum.k=='sig'"}],"mark":{"type":"rule","color":"black","strokeWidth":1.1},
   "encoding":{"x":{"field":"a","type":"nominal","bandPosition":1.1667},"x2":{"field":"b","bandPosition":1.1667},"y":{"datum":7.244,"type":"quantitative","title":"Relative abundance (%)"}}},
  {"transform":[{"filter":"datum.k=='sig'"}],"mark":{"type":"rule","color":"black","strokeWidth":1.1},
   "encoding":{"x":{"field":"a","type":"nominal","bandPosition":1.1667},"y":{"datum":7.244,"type":"quantitative","title":"Relative abundance (%)"},"y2":{"datum":6.95}}},
  {"transform":[{"filter":"datum.k=='sig'"}],"mark":{"type":"rule","color":"black","strokeWidth":1.1},
   "encoding":{"x":{"field":"b","type":"nominal","bandPosition":1.1667},"y":{"datum":7.244,"type":"quantitative","title":"Relative abundance (%)"},"y2":{"datum":6.95}}},
  {"transform":[{"filter":"datum.k=='sig'"}],"mark":{"type":"text","fontSize":14,"font":"Liberation Sans","baseline":"alphabetic","dy":2,"color":"black"},
   "encoding":{"x":{"field":"c","type":"nominal","bandPosition":1.1667},"y":{"datum":7.244,"type":"quantitative","title":"Relative abundance (%)"},"text":{"field":"s"}}}
 ]},
{"width":108,"height":114,"view":{"stroke":"#7f7f7f","strokeWidth":1.5},
 "title":{"text":"Desulfovibrionaceae","fontStyle":"normal","fontWeight":"normal","fontSize":15,"font":"Liberation Sans","color":"black","offset":2},
 "data":{"values":[
  {"k":"box","g":"HFD Exercise (6/6)","lo":32.3,"q1":38.4,"md":45.1,"q3":47.7,"hi":49.8},
  {"k":"box","g":"HFD (6/6)","lo":22.3,"q1":29.3,"md":46.0,"q3":53.5,"hi":65.6},
  {"k":"box","g":"pLPHC Exercise (6/6)","lo":10.9,"q1":13.2,"md":15.8,"q3":18.2,"hi":18.6},
  {"k":"box","g":"pLPHC No-exercise (3/3)","lo":10.0,"q1":12.3,"md":15.6,"q3":19.3,"hi":23.9},
  {"k":"out","g":"pLPHC Exercise (6/6)","v":26.3},
  {"k":"pair","a":"HFD Exercise (6/6)","b":"HFD (6/6)"},
  {"k":"pair","a":"pLPHC Exercise (6/6)","b":"pLPHC No-exercise (3/3)"},
  {"k":"sig","a":"HFD Exercise (6/6)","b":"pLPHC Exercise (6/6)","c":"HFD (6/6)","s":"**"}
 ]},
 "layer":[
  {"transform":[{"filter":"datum.k=='pair'"}],"mark":{"type":"rect","fill":"transparent","stroke":"#e8262b","strokeWidth":1.6,"xOffset":-2,"x2Offset":2},
   "encoding":{"x":{"field":"a","type":"nominal","bandPosition":0,"scale":{"domain":["HFD Exercise (6/6)","HFD (6/6)","pLPHC Exercise (6/6)","pLPHC No-exercise (3/3)"],"paddingInner":0.25,"paddingOuter":0.225},
     "axis":{"title":null,"zindex":0,"labelAngle":-55,"labelFontSize":8.2,"labelFont":"Liberation Sans","labelColor":"#333333","tickColor":"#4d4d4d","tickSize":3,"domain":false,"grid":true,"gridColor":"#ebebeb","bandPosition":0.5,"labelPadding":2}},
    "x2":{"field":"b","bandPosition":1}}},
  {"transform":[{"filter":"datum.k=='box'"}],"mark":{"type":"rule","stroke":"#111111","strokeWidth":1.4},
   "encoding":{"x":{"field":"g","type":"nominal"},"y":{"field":"lo","type":"quantitative","title":"Relative abundance (%)","scale":{"domain":[8.2,67.5],"nice":false,"zero":false},
     "axis":{"values":[20,40,60],"zindex":0,"titleFont":"Liberation Sans","titleFontSize":11,"titleFontWeight":"normal","titleColor":"#4d4d4d","labelFont":"Liberation Sans","labelFontSize":10,"labelColor":"#4d4d4d","tickColor":"#4d4d4d","tickSize":3,"domain":false,"gridColor":"#ebebeb","labelPadding":2,"titlePadding":3}},"y2":{"field":"hi"}}},
  {"transform":[{"filter":"datum.k=='box'"}],"mark":{"type":"tick","color":"#111111","size":10,"thickness":1.3,"opacity":1},
   "encoding":{"x":{"field":"g","type":"nominal"},"y":{"field":"hi","type":"quantitative","title":"Relative abundance (%)"}}},
  {"transform":[{"filter":"datum.k=='box'"}],"mark":{"type":"tick","color":"#111111","size":10,"thickness":1.3,"opacity":1},
   "encoding":{"x":{"field":"g","type":"nominal"},"y":{"field":"lo","type":"quantitative","title":"Relative abundance (%)"}}},
  {"transform":[{"filter":"datum.k=='box'"}],"mark":{"type":"bar","fill":"white","stroke":"black","strokeWidth":1.1},
   "encoding":{"x":{"field":"g","type":"nominal"},"y":{"field":"q1","type":"quantitative","title":"Relative abundance (%)"},"y2":{"field":"q3"}}},
  {"transform":[{"filter":"datum.k=='box'"}],"mark":{"type":"bar","fill":"transparent","stroke":"black","strokeWidth":2},
   "encoding":{"x":{"field":"g","type":"nominal"},"y":{"field":"md","type":"quantitative","title":"Relative abundance (%)"},"y2":{"field":"md"}}},
  {"transform":[{"filter":"datum.k=='out'"}],"mark":{"type":"circle","color":"black","size":14,"opacity":1},
   "encoding":{"x":{"field":"g","type":"nominal"},"y":{"field":"v","type":"quantitative","title":"Relative abundance (%)"}}},
  {"transform":[{"filter":"datum.k=='sig'"}],"mark":{"type":"rule","color":"black","strokeWidth":1.1},
   "encoding":{"x":{"field":"a","type":"nominal","bandPosition":1.1667},"x2":{"field":"b","bandPosition":1.1667},"y":{"datum":70.36,"type":"quantitative","title":"Relative abundance (%)"}}},
  {"transform":[{"filter":"datum.k=='sig'"}],"mark":{"type":"rule","color":"black","strokeWidth":1.1},
   "encoding":{"x":{"field":"a","type":"nominal","bandPosition":1.1667},"y":{"datum":70.36,"type":"quantitative","title":"Relative abundance (%)"},"y2":{"datum":67.5}}},
  {"transform":[{"filter":"datum.k=='sig'"}],"mark":{"type":"rule","color":"black","strokeWidth":1.1},
   "encoding":{"x":{"field":"b","type":"nominal","bandPosition":1.1667},"y":{"datum":70.36,"type":"quantitative","title":"Relative abundance (%)"},"y2":{"datum":67.5}}},
  {"transform":[{"filter":"datum.k=='sig'"}],"mark":{"type":"text","fontSize":14,"font":"Liberation Sans","baseline":"alphabetic","dy":2,"color":"black"},
   "encoding":{"x":{"field":"c","type":"nominal","bandPosition":1.1667},"y":{"datum":70.36,"type":"quantitative","title":"Relative abundance (%)"},"text":{"field":"s"}}}
 ]}
]}
]
}
